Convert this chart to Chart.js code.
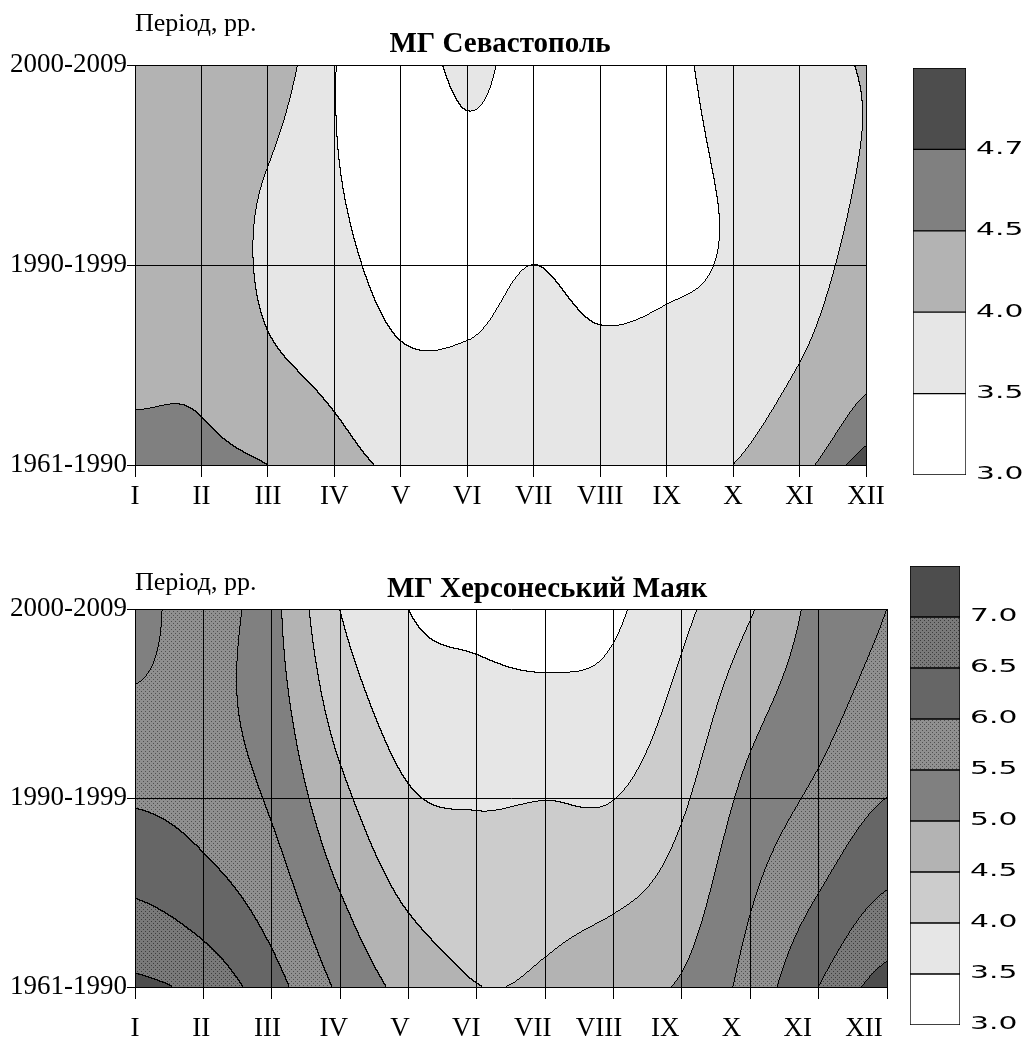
<!DOCTYPE html>
<html>
<head>
<meta charset="utf-8">
<script src="https://cdn.jsdelivr.net/npm/chart.js@4.4.1/dist/chart.umd.min.js"></script>
<style>
  body { margin: 0; background: #fff; width: 1031px; height: 1041px; position: relative; overflow: hidden; }
  canvas { position: absolute; }
</style>
</head>
<body>
<canvas id="sev" width="900" height="540" style="left:0;top:0"></canvas>
<canvas id="sevLegend" width="131" height="460" style="left:900px;top:40px"></canvas>
<canvas id="kh" width="923" height="501" style="left:0;top:540px"></canvas>
<canvas id="khLegend" width="131" height="501" style="left:900px;top:540px"></canvas>
<script>
// months along x, periods along y (top to bottom)
const months = ['I', 'II', 'III', 'IV', 'V', 'VI', 'VII', 'VIII', 'IX', 'X', 'XI', 'XII'];
const periods = ['2000-2009', '1990-1999', '1961-1990'];

// MG Sevastopol
const sevLevels = [3.0, 3.5, 4.0, 4.5, 4.7];
const sev2000 = [4.30, 4.30, 4.34, 3.52, 3.20, 3.63, 3.25, 3.20, 3.30, 3.79, 3.85, 4.02];
const sev1990 = [4.30, 4.30, 3.92, 3.65, 3.33, 3.38, 3.50, 3.39, 3.44, 3.54, 3.78, 4.15];
const sev1961 = [4.62, 4.60, 4.50, 4.18, 3.92, 3.95, 3.85, 3.85, 3.85, 4.00, 4.40, 4.78];

// MG Khersoneskyi Mayak
const khLevels = [3.0, 3.5, 4.0, 4.5, 5.0, 5.5, 6.0, 6.5, 7.0];
const kh2000 = [5.30, 5.75, 5.15, 4.00, 3.50, 3.345, 3.22, 3.42, 3.88, 4.45, 5.15, 5.50];
const kh1990 = [5.95, 5.80, 5.43, 4.63, 4.05, 3.96, 3.99, 3.99, 4.42, 5.15, 5.60, 6.00];
const kh1961 = [7.10, 6.85, 6.20, 5.42, 4.84, 4.51, 4.58, 4.88, 5.05, 5.68, 6.50, 7.20];

// band fills, lowest band first
const sevFills = ['#ffffff', '#e6e6e6', '#b3b3b3', '#808080', '#4d4d4d'];
const khFills = ['#ffffff', '#e6e6e6', '#cccccc', '#b3b3b3', '#808080',
  { base: '#909090', dot: '#505050' }, '#666666',
  { base: '#7a7a7a', dot: '#3c3c3c' }, '#4d4d4d'];

const SERIF = "'Liberation Serif', 'Times New Roman', serif";

function hexRgb(h) {
  return [parseInt(h.slice(1, 3), 16), parseInt(h.slice(3, 5), 16), parseInt(h.slice(5, 7), 16)];
}

function isDot(x, y) {
  return y % 2 === 0 && (x + (y % 4 === 0 ? 0 : 2)) % 4 === 0;
}

function fillStyle(f) {
  if (typeof f === 'string') return f;
  const c = document.createElement('canvas');
  c.width = 4; c.height = 4;
  const g = c.getContext('2d');
  g.fillStyle = f.base;
  g.fillRect(0, 0, 4, 4);
  g.fillStyle = f.dot;
  for (let y = 0; y < 4; y++) for (let x = 0; x < 4; x++) if (isDot(x, y)) g.fillRect(x, y, 1, 1);
  return g.createPattern(c, 'repeat');
}

function catmull(arr, u) {
  const n = arr.length;
  u = Math.max(0, Math.min(n - 1, u));
  const i = Math.min(Math.floor(u), n - 2);
  const s = u - i;
  const p0 = arr[Math.max(i - 1, 0)], p1 = arr[i], p2 = arr[i + 1], p3 = arr[Math.min(i + 2, n - 1)];
  return 0.5 * (2 * p1 + (-p0 + p2) * s + (2 * p0 - 5 * p1 + 4 * p2 - p3) * s * s +
    (-p0 + 3 * p1 - 3 * p2 + p3) * s * s * s);
}

// filled contours, painted under the grid
const contourPlugin = {
  id: 'contour',
  beforeDraw(chart, args, opts) {
    const { ctx, chartArea: a, scales: { x, y } } = chart;
    const w = Math.round(a.right - a.left), h = Math.round(a.bottom - a.top);
    const rows = opts.rows;
    const th = opts.levels.slice(1);
    const cols = opts.fills.map(f => typeof f === 'string'
      ? { base: hexRgb(f), dot: hexRgb(f) } : { base: hexRgb(f.base), dot: hexRgb(f.dot) });

    const colVals = rows.map(() => new Float32Array(w));
    for (let i = 0; i < w; i++) {
      const m = x.getValueForPixel(a.left + i + 0.5);
      rows.forEach((r, k) => { colVals[k][i] = catmull(r, m - 1); });
    }
    const band = new Uint8Array(w * h);
    for (let j = 0; j < h; j++) {
      const t = y.getValueForPixel(a.top + j + 0.5);
      const l0 = (t - 1) * (t - 2) / 2, l1 = -t * (t - 2), l2 = t * (t - 1) / 2;
      for (let i = 0; i < w; i++) {
        const v = colVals[0][i] * l0 + colVals[1][i] * l1 + colVals[2][i] * l2;
        let b = 0;
        while (b < th.length && v >= th[b]) b++;
        band[j * w + i] = b;
      }
    }
    const off = document.createElement('canvas');
    off.width = w; off.height = h;
    const octx = off.getContext('2d');
    const img = octx.createImageData(w, h);
    const px = img.data;
    for (let j = 0; j < h; j++) {
      for (let i = 0; i < w; i++) {
        const k = j * w + i;
        const b = band[k];
        const edge = (i < w - 1 && band[k + 1] !== b) || (j < h - 1 && band[k + w] !== b);
        const c = cols[b];
        const rgb = edge ? [0, 0, 0] : (isDot(i, j) ? c.dot : c.base);
        px[k * 4] = rgb[0]; px[k * 4 + 1] = rgb[1]; px[k * 4 + 2] = rgb[2]; px[k * 4 + 3] = 255;
      }
    }
    octx.putImageData(img, 0, 0);
    ctx.drawImage(off, a.left, a.top);
  }
};

// axis caption and station title
const captionPlugin = {
  id: 'caption',
  afterDraw(chart, args, opts) {
    const { ctx, chartArea: a } = chart;
    ctx.save();
    ctx.fillStyle = '#000';
    ctx.textBaseline = 'alphabetic';
    ctx.font = '26px ' + SERIF;
    ctx.textAlign = 'left';
    ctx.fillText('Період, рр.', a.left, opts.captionY);
    ctx.font = 'bold 29px ' + SERIF;
    ctx.textAlign = 'center';
    ctx.fillText(opts.title, opts.titleX, opts.titleY);
    ctx.restore();
  }
};

// level values beside the colour bar
const levelLabelPlugin = {
  id: 'levelLabels',
  afterDraw(chart, args, opts) {
    const { ctx, chartArea: a, scales: { y } } = chart;
    ctx.save();
    ctx.fillStyle = '#000';
    ctx.font = '17px "DejaVu Sans"';
    ctx.textBaseline = 'middle';
    opts.levels.forEach((lv, i) => {
      ctx.save();
      ctx.translate(a.right + 10, y.getPixelForValue(i));
      ctx.scale(1.75, 1);
      ctx.fillText(lv.toFixed(1), 0, 0);
      ctx.restore();
    });
    ctx.restore();
  }
};

function contourChart(id, rows, levels, fills, pad, axis, caption) {
  const nodes = [];
  rows.forEach((r, k) => r.forEach((v, i) => nodes.push({ x: i + 1, y: k, v })));
  const monthTicks = {
    stepSize: 1, autoSkip: false, maxRotation: 0, padding: axis.pad, color: '#000',
    includeBounds: false,
    font: { family: SERIF, size: 27 },
    callback: v => months[v - 1] || ''
  };
  const scales = {
    x: {
      type: 'linear', min: 1, max: 12, weight: 0,
      ticks: axis.labelMax ? { stepSize: 1, display: false } : monthTicks,
      grid: { color: '#000', tickLength: axis.tick },
      border: { color: '#000' },
      afterFit: s => { s.height = axis.labelMax ? axis.tick : axis.h; }
    },
    y: {
      type: 'linear', min: 0, max: 2, reverse: true,
      ticks: {
        stepSize: 1, padding: 0, labelOffset: 0, color: '#000',
        font: { family: SERIF, size: 27 },
        callback: v => periods[v]
      },
      grid: { color: '#000', tickLength: 8 },
      border: { color: '#000' },
      afterFit: s => { s.width = 135; }
    }
  };
  if (axis.labelMax) {
    // month names in this panel sit on a slightly tighter pitch than the grid
    scales.x2 = {
      type: 'linear', position: 'bottom', min: 1, max: axis.labelMax, weight: 1,
      ticks: monthTicks,
      grid: { display: false, drawTicks: false },
      border: { display: false },
      afterFit: s => { s.height = axis.h - axis.tick; }
    };
  }
  return new Chart(document.getElementById(id), {
    type: 'scatter',
    data: { datasets: [{ data: nodes, pointRadius: 0 }] },
    options: {
      responsive: false,
      animation: false,
      layout: { padding: pad },
      plugins: {
        legend: { display: false },
        tooltip: { enabled: false },
        contour: { rows, levels, fills },
        caption
      },
      scales
    },
    plugins: [contourPlugin, captionPlugin]
  });
}

function legendChart(id, levels, fills, pad) {
  const datasets = fills.map(f => ({
    data: [1],
    backgroundColor: fillStyle(f),
    borderColor: '#000',
    borderWidth: 1,
    borderSkipped: false,
    barPercentage: 1,
    categoryPercentage: 1
  }));
  return new Chart(document.getElementById(id), {
    type: 'bar',
    data: { labels: [''], datasets },
    options: {
      responsive: false,
      animation: false,
      layout: { padding: pad },
      plugins: { legend: { display: false }, tooltip: { enabled: false }, levelLabels: { levels } },
      scales: {
        x: { display: false, stacked: true },
        y: { display: false, stacked: true, min: 0, max: fills.length }
      }
    },
    plugins: [levelLabelPlugin]
  });
}

contourChart('sev', [sev2000, sev1990, sev1961], sevLevels, sevFills,
  { top: 65, right: 34, bottom: 20, left: 0 }, { tick: 12, pad: 4, h: 55 },
  { title: 'МГ Севастополь', titleX: 500, titleY: 52, captionY: 31 });
legendChart('sevLegend', sevLevels, sevFills, { left: 13, right: 65, top: 28, bottom: 25 });

contourChart('kh', [kh2000, kh1990, kh1961], khLevels, khFills,
  { top: 69, right: 36, bottom: 0, left: 0 }, { tick: 12, pad: 14, h: 54, labelMax: 12.347 },
  { title: 'МГ Херсонеський Маяк', titleX: 547, titleY: 57, captionY: 50 });
legendChart('khLegend', khLevels, khFills, { left: 10, right: 71, top: 26, bottom: 16 });
</script>
</body>
</html>
